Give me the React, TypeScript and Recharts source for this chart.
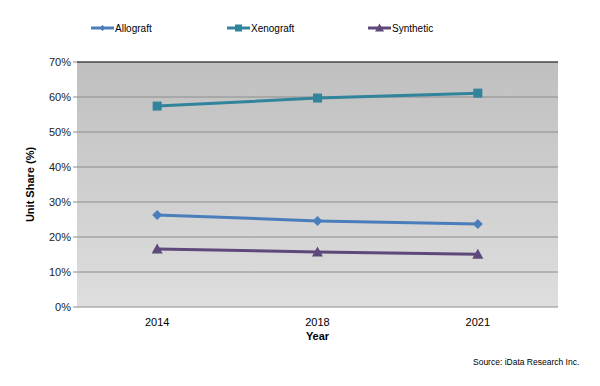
import { LineChart, Line, XAxis, YAxis, CartesianGrid, Legend, ReferenceLine, Label } from 'recharts';

const years = ['2014', '2018', '2021'];
const allograft = [26.3, 24.6, 23.7];
const xenograft = [57.4, 59.7, 61.1];
const synthetic = [16.6, 15.7, 15.1];
const yTicks = [0, 10, 20, 30, 40, 50, 60, 70];

const data = years.map((year, i) => ({
  year,
  Allograft: allograft[i],
  Xenograft: xenograft[i],
  Synthetic: synthetic[i],
}));

const series = [
  { key: 'Allograft', color: '#4a7ebb', shape: 'diamond' },
  { key: 'Xenograft', color: '#31849b', shape: 'square' },
  { key: 'Synthetic', color: '#5f497a', shape: 'triangle' },
];

function marker(cx: number, cy: number, shape: string, color: string, s: number) {
  if (shape === 'diamond') {
    return <path d={`M${cx},${cy - s}L${cx + s},${cy}L${cx},${cy + s}L${cx - s},${cy}Z`} fill={color} />;
  }
  if (shape === 'square') {
    return <rect x={cx - s} y={cy - s} width={s * 2} height={s * 2} fill={color} />;
  }
  return <path d={`M${cx},${cy - s - 1}L${cx + s + 1},${cy + s}L${cx - s - 1},${cy + s}Z`} fill={color} />;
}

const font = 'Arial, "Liberation Sans", sans-serif';

function LegendContent() {
  const lefts = [91, 227, 368];
  return (
    <div style={{ position: 'relative', width: 600, height: 20, fontFamily: font, fontSize: 10, color: '#000' }}>
      {series.map((s, i) => (
        <div key={s.key} style={{ position: 'absolute', left: lefts[i], top: 0, display: 'flex', alignItems: 'center', height: 20 }}>
          <svg width={23} height={12}>
            <line x1={0} y1={6} x2={23} y2={6} stroke={s.color} strokeWidth={3} />
            {marker(11.5, 6, s.shape, s.color, s.shape === 'diamond' ? 3 : 3.5)}
          </svg>
          <span style={{ marginLeft: 1 }}>{s.key}</span>
        </div>
      ))}
    </div>
  );
}

export default function App() {
  return (
    <div style={{ position: 'absolute', left: 0, top: 0, width: 600, height: 386, background: '#fff' }}>
      <LineChart width={600} height={386} data={data} margin={{ top: 42, right: 42, left: 32, bottom: 49 }}>
        <defs>
          <linearGradient id="bg" x1="0" y1="0" x2="0" y2="1">
            <stop offset="0%" stopColor="#bfbfbf" />
            <stop offset="100%" stopColor="#dedede" />
          </linearGradient>
        </defs>
        <CartesianGrid xAxisId="cat" vertical={false} stroke="#8c8c8c" fill="url(#bg)" />
        <XAxis
          xAxisId="grid"
          type="number"
          domain={[0, 3]}
          ticks={[0, 1, 2, 3]}
          tick={false}
          height={0}
          tickSize={5}
          axisLine={{ stroke: '#bdbdbd' }}
          tickLine={{ stroke: '#8c8c8c' }}
        />
        <XAxis
          xAxisId="cat"
          dataKey="year"
          scale="band"
          axisLine={false}
          tickLine={false}
          height={30}
          tick={{ fontSize: 11, fill: '#000', fontFamily: font }}
          dy={3}
        >
          <Label value="Year" position="insideBottom" offset={-3} style={{ fontSize: 11, fontWeight: 'bold', fill: '#000', fontFamily: font }} />
        </XAxis>
        <YAxis
          domain={[0, 70]}
          ticks={yTicks}
          tickFormatter={(v) => `${v}%`}
          width={45}
          axisLine={false}
          tickSize={4}
          tickLine={{ stroke: '#8c8c8c' }}
          tick={{ fontSize: 11, fill: '#222', fontFamily: font }}
        >
          <Label value="Unit Share (%)" angle={-90} position="insideLeft" offset={-2} style={{ textAnchor: 'middle', fontSize: 11, fontWeight: 'bold', fill: '#000', fontFamily: font }} />
        </YAxis>
        <YAxis yAxisId="right" orientation="right" width={0} tick={false} tickLine={false} axisLine={{ stroke: '#404040', strokeWidth: 1.5 }} />
        <ReferenceLine y={70} xAxisId="cat" stroke="#222" />
        <Legend verticalAlign="top" height={20} content={<LegendContent />} wrapperStyle={{ top: 18, left: 0, width: 600 }} />
        {series.map((s) => (
          <Line
            key={s.key}
            xAxisId="cat"
            dataKey={s.key}
            stroke={s.color}
            strokeWidth={3}
            isAnimationActive={false}
            dot={(p: any) => <g key={p.index}>{marker(p.cx, p.cy, s.shape, s.color, s.shape === 'diamond' ? 5 : 4.5)}</g>}
            activeDot={false}
          />
        ))}
      </LineChart>
      <div style={{ position: 'absolute', left: 473, top: 357, fontFamily: font, fontSize: 8.5, color: '#000' }}>
        Source: iData Research Inc.
      </div>
    </div>
  );
}
